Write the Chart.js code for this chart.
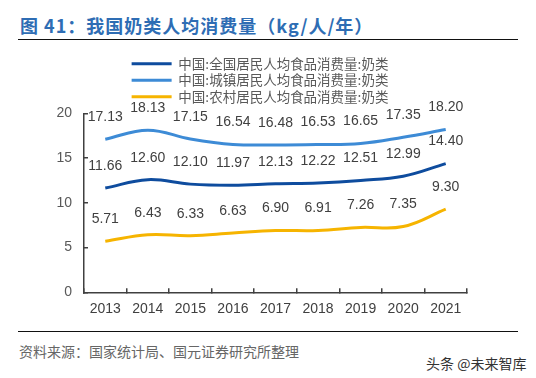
<!DOCTYPE html>
<html>
<head>
<meta charset="utf-8">
<script src="https://cdn.jsdelivr.net/npm/chart.js@4.4.1/dist/chart.umd.min.js"></script>
<style>
  html, body { margin: 0; padding: 0; background: #fff; }
  body { width: 536px; height: 378px; position: relative; overflow: hidden; }
  #title { position: absolute; left: 20px; top: 12px; font: bold 18px "Noto Sans CJK SC", sans-serif; color: #2E6DB4; white-space: nowrap; letter-spacing: 1px; }
  .rule { position: absolute; left: 18px; width: 500px; height: 0; border-top: 1.5px solid #111; }
  #box { position: absolute; left: 0; top: 51px; width: 536px; height: 272px; }
  #src { position: absolute; left: 19px; top: 341px; font: 14px "Noto Sans CJK SC", sans-serif; color: #666; white-space: nowrap; }
  #mark { position: absolute; left: 426px; top: 353px; font: 14px "Noto Sans CJK SC", sans-serif; color: #333; white-space: nowrap; }
</style>
</head>
<body>
<div id="title">图 41：我国奶类人均消费量（kg/人/年）</div>
<div class="rule" style="top:39px"></div>
<div id="box"><canvas id="mycanvas"></canvas></div>
<div class="rule" style="top:331px"></div>
<div id="src">资料来源：国家统计局、国元证券研究所整理</div>
<div id="mark">头条 @未来智库</div>
<script>
// years and kg per person
const years = ['2013', '2014', '2015', '2016', '2017', '2018', '2019', '2020', '2021'];
const nationalMilk = [11.66, 12.60, 12.10, 11.97, 12.13, 12.22, 12.51, 12.99, 14.40];
const urbanMilk = [17.13, 18.13, 17.15, 16.54, 16.48, 16.53, 16.65, 17.35, 18.20];
const ruralMilk = [5.71, 6.43, 6.33, 6.63, 6.90, 6.91, 7.26, 7.35, 9.30];
const yTicks = [0, 5, 10, 15, 20];

const seriesNames = [
  '中国:全国居民人均食品消费量:奶类',
  '中国:城镇居民人均食品消费量:奶类',
  '中国:农村居民人均食品消费量:奶类'
];

// value labels above each point
const valueLabels = {
  id: 'valueLabels',
  afterDatasetsDraw(chart) {
    const ctx = chart.ctx;
    ctx.save();
    ctx.font = '14px "Liberation Sans", Arial, sans-serif';
    ctx.fillStyle = '#404040';
    ctx.textAlign = 'center';
    ctx.textBaseline = 'middle';
    chart.data.datasets.forEach((ds, i) => {
      chart.getDatasetMeta(i).data.forEach((pt, j) => {
        ctx.fillText(ds.data[j].toFixed(2), pt.x, pt.y - 22);
      });
    });
    ctx.restore();
  }
};

function line(label, data, color) {
  return {
    label: label,
    data: data,
    borderColor: color,
    backgroundColor: color,
    borderWidth: 3,
    pointRadius: 0,
    tension: 0.4,
    fill: false
  };
}

let ctx = document.getElementById('mycanvas');

new Chart(ctx, {
  type: 'line',
  data: {
    labels: years,
    datasets: [
      line(seriesNames[0], nationalMilk, '#0E4C9E'),
      line(seriesNames[1], urbanMilk, '#3D8BD6'),
      line(seriesNames[2], ruralMilk, '#F6B400')
    ]
  },
  options: {
    responsive: true,
    maintainAspectRatio: false,
    animation: false,
    layout: { padding: { left: 53, right: 69, top: 3, bottom: 0 } },
    plugins: {
      tooltip: { enabled: false },
      legend: {
        position: 'top',
        labels: {
          usePointStyle: true,
          pointStyle: 'line',
          pointStyleWidth: 40,
          padding: 3,
          color: '#595959',
          font: { family: '"Noto Sans CJK SC", sans-serif', size: 13.5 }
        }
      }
    },
    scales: {
      x: {
        offset: true,
        grid: { display: true, drawOnChartArea: false, offset: true, tickLength: -4, color: '#404040', lineWidth: 1.5 },
        border: { display: true, color: '#404040', width: 1.5 },
        ticks: { color: '#404040', padding: 12, maxRotation: 0, font: { family: '"Liberation Sans", Arial, sans-serif', size: 14 } },
        afterFit(scale) { scale.height = 30; }
      },
      y: {
        min: 0,
        max: 20,
        afterBuildTicks(scale) { scale.ticks = yTicks.map(v => ({ value: v })); },
        grid: { display: true, drawOnChartArea: false, tickLength: -4, color: '#404040', lineWidth: 1.5 },
        border: { display: true, color: '#404040', width: 1.5 },
        ticks: { color: '#595959', padding: 16, font: { family: '"Liberation Sans", Arial, sans-serif', size: 14, lineHeight: 2.1 } },
        afterFit(scale) { scale.width = 31; }
      }
    }
  },
  plugins: [valueLabels]
});
</script>
</body>
</html>
